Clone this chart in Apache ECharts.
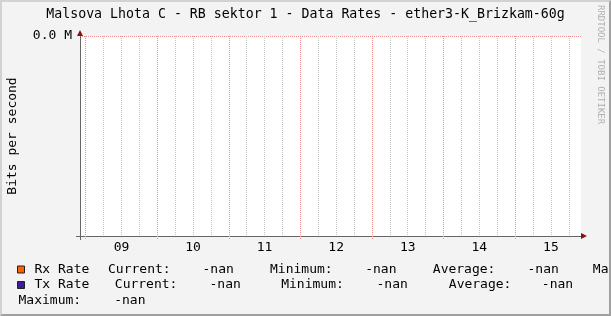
<!DOCTYPE html>
<html><head><meta charset="utf-8">
<script src="https://cdn.jsdelivr.net/npm/echarts@6/dist/echarts.min.js"></script>
<style>
html,body{margin:0;padding:0;background:#f3f3f3;}
#wrap{position:relative;width:611px;height:316px;overflow:hidden;}
#chart{position:absolute;left:0;top:0;width:611px;height:316px;}
#frame{position:absolute;left:0;top:0;width:611px;height:316px;box-sizing:border-box;border-top:2px solid #d2d2d2;border-left:2px solid #d2d2d2;border-right:2px solid #a0a0a0;border-bottom:2px solid #a0a0a0;pointer-events:none;}
</style></head><body>
<div id="wrap"><div id="chart"></div><div id="frame"></div></div>
<script>
// ---- data ----
const titleText = 'Malsova Lhota C - RB sektor 1 - Data Rates - ether3-K_Brizkam-60g';
const yAxisTitle = 'Bits per second';
const sideText = 'RRDTOOL / TOBI OETIKER';
const dayLabels = ['09', '10', '11', '12', '13', '14', '15'];
const dayStartHours = [0, 24, 48, 72, 96, 120, 144];   // 00:00 of each labelled day
const windowStartHour = -1.9;                        // hours relative to 00:00 of day 09
const windowEndHour = 166.1;
const yTickValues = [1];
const yTickLabels = ['0.0 M'];
const seriesNames = ['Rx Rate', 'Tx Rate'];
const seriesColors = ['#ff6000', '#3c1c9c'];
const rxRate = [];   // all values -nan
const txRate = [];   // all values -nan
const statLabels = ['Current:', 'Minimum:', 'Average:', 'Maximum:'];
const rxStats = ['-nan', '-nan', '-nan', '-nan'];
const txStats = ['-nan', '-nan', '-nan', '-nan'];

// ---- derived ticks ----
const minorHours = [];
dayStartHours.forEach(d => [6, 12, 18].forEach(o => { if (d + o < windowEndHour) minorHours.push(d + o); }));
const noonHours = dayStartHours.map(d => d + 12);

const FONT = '"DejaVu Sans Mono", monospace';
const GRAY = '#666666';
const ARROW = '#8a1010';
const MAJOR = '#f09090';
const MINOR = '#c4c4c4';

const chart = echarts.init(document.getElementById('chart'));

function txt(x, y, s) {
  return { type: 'text', x: x, y: y, silent: true,
    style: { text: s, fontSize: 13, fontFamily: FONT, fill: '#000', align: 'left', verticalAlign: 'middle' } };
}
const rowY = [269.5, 285, 301];
const graphics = [
  txt(108, rowY[0], statLabels[0]), txt(202.5, rowY[0], rxStats[0]),
  txt(270, rowY[0], statLabels[1]), txt(365.2, rowY[0], rxStats[1]),
  txt(432.8, rowY[0], statLabels[2]), txt(527.5, rowY[0], rxStats[2]),
  txt(592.8, rowY[0], statLabels[3]), txt(689, rowY[0], rxStats[3]),
  txt(114.8, rowY[1], statLabels[0]), txt(209.5, rowY[1], txStats[0]),
  txt(281.2, rowY[1], statLabels[1]), txt(376.5, rowY[1], txStats[1]),
  txt(448.8, rowY[1], statLabels[2]), txt(541.8, rowY[1], txStats[2]),
  txt(18.5, rowY[2], statLabels[3]), txt(114.2, rowY[2], txStats[3]),
  { type: 'text', x: 600, y: 5, rotation: -Math.PI / 2, silent: true,
    style: { text: sideText, fontSize: 9, fontFamily: FONT, fill: '#b0b0b0', align: 'left', verticalAlign: 'middle' } }
];

const legendBase = {
  orient: 'horizontal', left: 17, padding: 0, itemWidth: 7, itemHeight: 7,
  icon: 'rect', itemStyle: { borderColor: '#202020', borderWidth: 1 },
  textStyle: { fontSize: 13, fontFamily: FONT, color: '#000', lineHeight: 14, padding: [0, 0, 0, 5] },
  selectedMode: false
};

const option = {
  backgroundColor: 'transparent',
  animation: false,
  color: seriesColors,
  title: { text: titleText, left: 'center', top: 8, padding: 0,
    textStyle: { fontSize: 13.25, fontWeight: 'normal', fontFamily: FONT, color: '#000', lineHeight: 14 } },
  legend: [
    Object.assign({}, legendBase, { top: 262.5, data: [seriesNames[0]] }),
    Object.assign({}, legendBase, { top: 278, data: [seriesNames[1]] })
  ],
  grid: { left: 80, right: 30, top: 36, bottom: 80, show: true, backgroundColor: '#ffffff', borderWidth: 0,
    containLabel: false, outerBoundsMode: 'none' },
  xAxis: [
    { type: 'value', min: windowStartHour, max: windowEndHour, position: 'bottom',
      axisLine: { show: true, onZero: false, symbol: ['none', 'triangle'], symbolSize: [6, 6], symbolOffset: [0, 3],
        lineStyle: { color: ARROW, width: 1 } },
      axisTick: { show: true, inside: false, length: 3, customValues: dayStartHours, lineStyle: { color: MAJOR, type: 'dotted' } },
      splitLine: { show: true, lineStyle: { color: MAJOR, type: 'dotted', width: 1 } },
      axisLabel: { show: true, customValues: noonHours, margin: 5, fontSize: 13, fontFamily: FONT, color: '#000',
        formatter: v => dayLabels[noonHours.indexOf(v)] } },
    { type: 'value', min: windowStartHour, max: windowEndHour, position: 'bottom',
      axisLine: { show: true, onZero: false, lineStyle: { color: GRAY, width: 1 } },
      axisTick: { show: true, length: 4, customValues: [windowStartHour], lineStyle: { color: GRAY } },
      splitLine: { show: false }, axisLabel: { show: false } },
    { type: 'value', min: windowStartHour, max: windowEndHour, position: 'bottom',
      axisLine: { show: false }, axisTick: { show: false, customValues: minorHours },
      splitLine: { show: true, lineStyle: { color: MINOR, type: 'dotted', width: 1 } }, axisLabel: { show: false } }
  ],
  yAxis: [
    { type: 'value', min: 0, max: 1, interval: 1, position: 'left',
      axisLine: { show: true, onZero: false, symbol: ['none', 'triangle'], symbolSize: [6, 6], symbolOffset: [0, 3],
        lineStyle: { color: ARROW, width: 1 } },
      axisTick: { show: false }, axisLabel: { show: false },
      splitLine: { show: true, lineStyle: { color: MAJOR, type: 'dotted', width: 1 } } },
    { type: 'value', min: 0, max: 1, interval: 1, position: 'left',
      name: yAxisTitle, nameLocation: 'middle', nameRotate: 90, nameGap: 61,
      nameTextStyle: { fontSize: 13, fontFamily: FONT, color: '#000' },
      axisLine: { show: true, onZero: false, lineStyle: { color: GRAY, width: 1 } },
      axisTick: { show: true, length: 4, customValues: [0], lineStyle: { color: GRAY } },
      splitLine: { show: false },
      axisLabel: { show: true, customValues: yTickValues, margin: 8, fontSize: 13, fontFamily: FONT, color: '#000',
        formatter: v => yTickLabels[yTickValues.indexOf(v)] } }
  ],
  series: [
    { name: seriesNames[0], type: 'line', xAxisIndex: 0, yAxisIndex: 0, data: rxRate, showSymbol: false,
      lineStyle: { color: seriesColors[0] }, itemStyle: { color: seriesColors[0] } },
    { name: seriesNames[1], type: 'line', xAxisIndex: 0, yAxisIndex: 0, data: txRate, showSymbol: false,
      lineStyle: { color: seriesColors[1] }, itemStyle: { color: seriesColors[1] } }
  ],
  graphic: graphics
};
chart.setOption(option);
</script>
</body></html>
